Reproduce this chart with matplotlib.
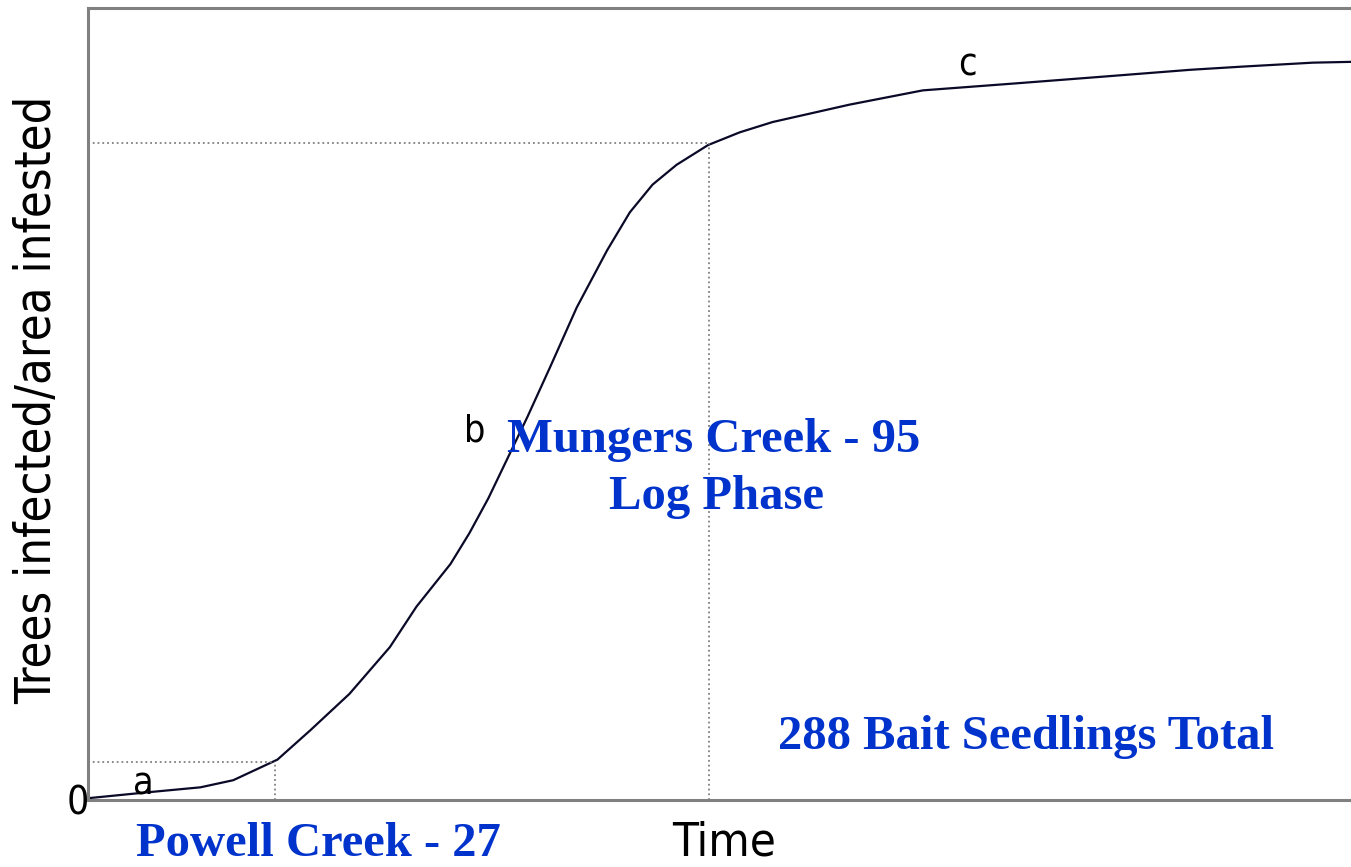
import matplotlib.pyplot as plt

# disease progress curve (time 0-100, amount 0-100)
time = [0.16, 4.9, 8.9, 11.5, 15.0, 17.6, 20.7, 23.9, 26.0, 28.7, 30.2, 31.7,
        34.8, 36.6, 38.7, 41.1, 42.9, 44.7, 46.6, 49.1, 51.6, 54.2, 60.3,
        66.1, 73.6, 80.1, 87.3, 91.4, 97.0, 100.0]
infected = [0.25, 1.0, 1.6, 2.5, 5.1, 8.8, 13.4, 19.3, 24.4, 29.8, 33.7, 38.1,
            48.4, 54.7, 62.2, 69.4, 74.2, 77.7, 80.2, 82.7, 84.3, 85.6, 87.8,
            89.6, 90.5, 91.3, 92.2, 92.6, 93.1, 93.2]

# reference points marked with dotted guides
powell = (14.8, 4.8)
mungers = (49.2, 83.0)

phase_labels = ["a", "b", "c"]
phase_pos = [(4.4, 1.9), (30.6, 46.5), (69.6, 92.8)]

narrow = dict(family='DejaVu Sans', fontstretch='condensed')
blue = '#0033cc'
gray = '#808080'

fig = plt.figure(figsize=(13.51, 8.67), dpi=100)
ax = fig.add_axes([88 / 1351, 67 / 867, 1263 / 1351, 792 / 867])

ax.plot(time, infected, color='#0a0a28', linewidth=1.6)

for px, py in (powell, mungers):
    ax.plot([0, px], [py, py], color=gray, linestyle=':', linewidth=1.3)
    ax.plot([px, px], [0, py], color=gray, linestyle=':', linewidth=1.3)

for lab, (x, y) in zip(phase_labels, phase_pos):
    ax.text(x, y, lab, fontsize=27, ha='center', va='center', **narrow)

ax.text(-0.8, -0.5, "0", fontsize=28, ha='center', va='center',
        clip_on=False, **narrow)

ax.set_xlim(0, 100)
ax.set_ylim(0, 100)
ax.set_xticks([])
ax.set_yticks([])
for side in ('left', 'bottom', 'top'):
    ax.spines[side].set_color(gray)
    ax.spines[side].set_linewidth(2.2)
ax.spines['right'].set_visible(False)

fig.text(37 / 1351, 1 - 400 / 867, "Trees infected/area infested", rotation=90,
         fontsize=35, ha='center', va='center', **narrow)
fig.text(724 / 1351, 1 - 843 / 867, "Time", fontsize=34,
         ha='center', va='center', **narrow)

serif = dict(family='Liberation Serif', fontweight='bold', color=blue,
             fontsize=35, ha='center')
fig.text(714 / 1351, 1 - 440 / 867, "Mungers Creek - 95", va='center', **serif)
fig.text(716 / 1351, 1 - 497 / 867, "Log Phase", va='center', **serif)
fig.text(1026 / 1351, 1 - 737 / 867, "288 Bait Seedlings Total", va='center', **serif)
fig.text(318 / 1351, 1 - 844 / 867, "Powell Creek - 27", va='center', **serif)

fig.savefig("out.png", dpi=100)
